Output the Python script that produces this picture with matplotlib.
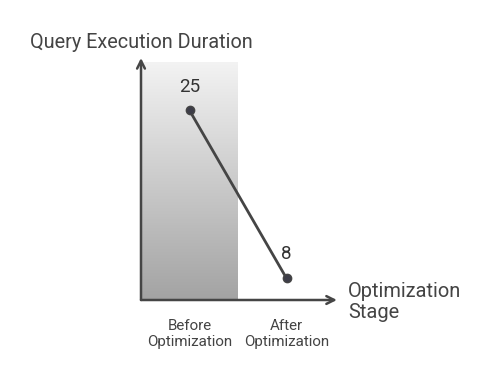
import numpy as np
import matplotlib.pyplot as plt

plt.rcParams['font.family'] = ['Roboto', 'DejaVu Sans']

# Data
stages = ["Before\nOptimization", "After\nOptimization"]
durations = [25, 8]
x_pos = [0, 1]

fig = plt.figure(figsize=(4.99, 3.82), dpi=100)
ax = fig.add_axes([141 / 499, 82 / 382, 194 / 499, 242 / 382])
ax.set_xlim(-0.5, 1.5)
ax.set_ylim(5.8, 30.3)

# gradient band behind first stage
grad = np.linspace(0, 1, 256).reshape(-1, 1)
ax.imshow(grad, cmap=plt.matplotlib.colors.LinearSegmentedColormap.from_list(
    "g", ["#a3a3a3", "#f3f3f3"]), origin="lower", aspect="auto",
    extent=[-0.5, 0.5, 5.8, 29.8], zorder=0)

ax.plot(x_pos, durations, color="#454545", lw=2, marker="o", ms=6,
        mfc="#3d3d48", mec="#454545", zorder=3)
for x, v in zip(x_pos, durations):
    ax.text(x, v + 1.5, str(v), ha="center", va="bottom", fontsize=13.5, color="#333333")

for s in ax.spines.values():
    s.set_visible(False)
ax.set_xticks([])
ax.set_yticks([])

# axis arrows
ax.annotate("", xy=(0, 1.0), xytext=(0, 0), xycoords="axes fraction",
            arrowprops=dict(arrowstyle="->", color="#454545", lw=1.8,
                            shrinkA=0, shrinkB=0, mutation_scale=14))
ax.annotate("", xy=(1.01, 0), xytext=(0, 0), xycoords="axes fraction",
            arrowprops=dict(arrowstyle="->", color="#454545", lw=1.8,
                            shrinkA=0, shrinkB=0, mutation_scale=14))

for x, lab in zip(x_pos, stages):
    ax.text(x, 5.8 - 1.9, lab, ha="center", va="top", fontsize=10.9,
            color="#444444", linespacing=1.2)

fig.text(30 / 499, 1 - 42 / 382, "Query Execution Duration", ha="left", va="center",
         fontsize=14.3, color="#444444")
fig.text(348 / 499, 1 - 302 / 382, "Optimization\nStage", ha="left", va="center",
         fontsize=14.4, color="#444444", linespacing=1.15)

fig.savefig("out.png", dpi=100, facecolor="white")
